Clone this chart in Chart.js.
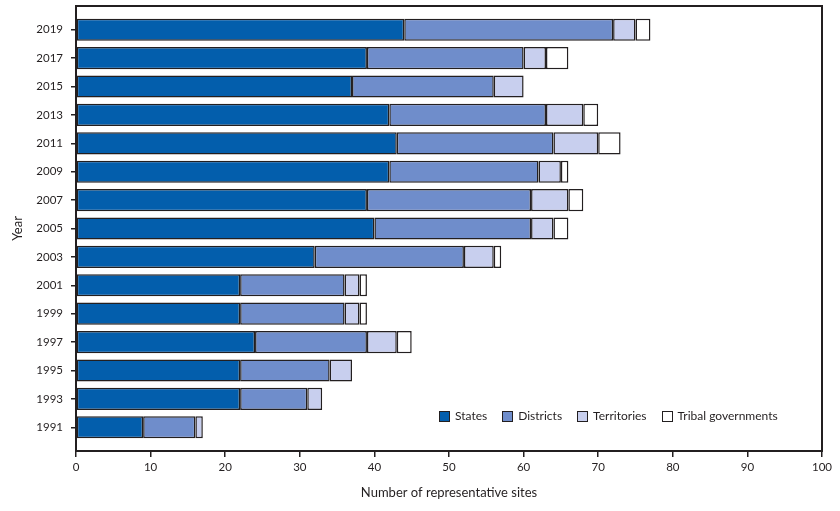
<!DOCTYPE html>
<html lang="en">
<head>
  <meta charset="UTF-8">
  <title>Number of representative sites by year</title>
  <script src="https://cdn.jsdelivr.net/npm/chart.js"></script>
  <style>
    body { margin: 0; background: #fff; font-family: Lato, "Open Sans", sans-serif; }
    .wrap { position: relative; width: 840px; height: 511px; }
    .legend { position: absolute; left: 439px; top: 408px; display: flex; gap: 15px;
              font-size: 12px; color: #231f20; line-height: 16px; }
    .legend span.item { display: flex; align-items: center; }
    .legend span.box { display: inline-block; width: 9px; height: 9px; margin-right: 5px;
                       border: 1.5px solid #231f20; }
  </style>
</head>
<body>
<div class="wrap">
  <canvas id="sitesChart" width="840" height="511"></canvas>
  <div class="legend" id="legend"></div>
</div>
<script>
  // survey years, top to bottom
  const years       = ['2019', '2017', '2015', '2013', '2011', '2009', '2007', '2005', '2003', '2001', '1999', '1997', '1995', '1993', '1991'];
  const states      = [44, 39, 37, 42, 43, 42, 39, 40, 32, 22, 22, 24, 22, 22, 9];
  const districts   = [28, 21, 19, 21, 21, 20, 22, 21, 20, 14, 14, 15, 12, 9, 7];
  const territories = [3, 3, 4, 5, 6, 3, 5, 3, 4, 2, 2, 4, 3, 2, 1];
  const tribal      = [2, 3, 0, 2, 3, 1, 2, 2, 1, 1, 1, 2, 0, 0, 0];
  const xTicks      = [0, 10, 20, 30, 40, 50, 60, 70, 80, 90, 100];

  const ink = '#231f20';
  const series = [
    { label: 'States', values: states, color: '#035eac' },
    { label: 'Districts', values: districts, color: '#6f8dcb' },
    { label: 'Territories', values: territories, color: '#c8cfee' },
    { label: 'Tribal governments', values: tribal, color: '#ffffff' }
  ];

  const frame = {
    id: 'frame',
    afterDraw(chart) {
      const a = chart.chartArea, c = chart.ctx;
      c.save();
      c.strokeStyle = ink;
      c.lineWidth = 2;
      c.strokeRect(a.left, a.top, a.right - a.left, a.bottom - a.top);
      c.restore();
    }
  };

  const ctx = document.getElementById('sitesChart').getContext('2d');
  const chart = new Chart(ctx, {
    type: 'bar',
    data: {
      datasets: series.map(s => ({
        label: s.label,
        data: s.values.map((v, i) => ({ x: v || null, y: i })),
        backgroundColor: s.color,
        borderColor: ink,
        borderWidth: 1.5,
        borderSkipped: false,
        categoryPercentage: 1,
        barPercentage: 0.78
      }))
    },
    options: {
      indexAxis: 'y',
      responsive: false,
      animation: false,
      layout: { padding: { top: 6, right: 18, left: 0, bottom: 0 } },
      plugins: { legend: { display: false }, tooltip: { enabled: false } },
      scales: {
        x: {
          stacked: true,
          min: 0, max: 100,
          afterBuildTicks: s => { s.ticks = xTicks.map(v => ({ value: v })); },
          afterFit: s => { s.height = 60; },
          grid: { drawOnChartArea: false, drawTicks: true, tickLength: 6, color: ink, lineWidth: 1.5 },
          border: { color: ink, width: 2 },
          ticks: { color: ink, padding: 3, font: { family: 'Lato', size: 11.5 }, maxRotation: 0 },
          title: { display: true, text: 'Number of representative sites', color: ink,
                   font: { family: 'Lato', size: 13 }, padding: { top: 0, bottom: 10 } }
        },
        y: {
          type: 'linear',
          stacked: true,
          reverse: true,
          offset: false,
          min: -0.835, max: years.length - 1 + 0.835,
          afterBuildTicks: s => { s.ticks = years.map((_, i) => ({ value: i })); },
          afterFit: s => { s.width = 76; s.paddingTop = 0; s.paddingBottom = 0; },
          grid: { offset: false, drawOnChartArea: false, drawTicks: true, tickLength: 5, color: ink, lineWidth: 1.5 },
          border: { color: ink, width: 2 },
          ticks: { color: ink, padding: 8, font: { family: 'Lato', size: 11.5 },
                   callback: v => years[v] },
          title: { display: true, text: 'Year', color: ink,
                   font: { family: 'Lato', size: 13 }, padding: { top: 10, bottom: 0 } }
        }
      }
    },
    plugins: [frame]
  });

  const legend = document.getElementById('legend');
  chart.data.datasets.forEach(ds => {
    const item = document.createElement('span');
    item.className = 'item';
    const box = document.createElement('span');
    box.className = 'box';
    box.style.background = ds.backgroundColor;
    item.appendChild(box);
    item.appendChild(document.createTextNode(ds.label));
    legend.appendChild(item);
  });
</script>
</body>
</html>
